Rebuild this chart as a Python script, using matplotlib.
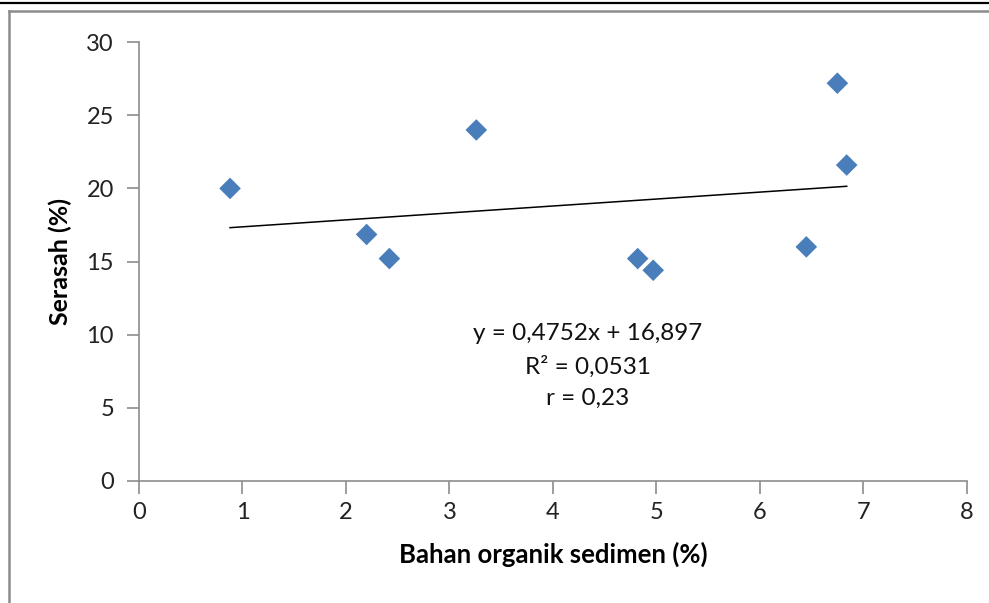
import matplotlib.pyplot as plt
from matplotlib.lines import Line2D

plt.rcParams['font.family'] = ['Lato', 'DejaVu Sans']

# Bahan organik sedimen (%) vs Serasah (%)
bahan_organik = [0.88, 2.20, 2.42, 3.26, 4.82, 4.97, 6.45, 6.75, 6.84]
serasah = [20.0, 16.85, 15.2, 24.0, 15.2, 14.4, 16.0, 27.2, 21.6]

# linear trendline as reported on the chart
slope = 0.4752
intercept = 16.897
trend_label = "y = 0,4752x + 16,897\nR² = 0,0531\nr = 0,23"

W, H = 989, 603
fig = plt.figure(figsize=(W / 100, H / 100), dpi=100)
ax = fig.add_axes([139 / W, 1 - 480.7 / H, (966.7 - 139) / W, (480.7 - 42.3) / H])

ax.scatter(bahan_organik, serasah, marker='D', s=11 ** 2, color='#4A7EBB',
           edgecolors='none', zorder=3)

x0, x1 = min(bahan_organik), max(bahan_organik)
ax.plot([x0, x1], [slope * x0 + intercept, slope * x1 + intercept],
        color='black', lw=1.1, zorder=2)

ax.text(4.34, 7.85, trend_label, ha='center', va='center', fontsize=17.5,
        linespacing=1.6, color='#111111')

ax.set_xlim(0, 8)
ax.set_ylim(0, 30)
ax.set_xticks(range(0, 9))
ax.set_yticks(range(0, 31, 5))

for side in ['top', 'right']:
    ax.spines[side].set_visible(False)
for side in ['left', 'bottom']:
    ax.spines[side].set_color('#8c8c8c')
    ax.spines[side].set_linewidth(1.2)
ax.tick_params(axis='both', direction='out', length=9, width=1.2, color='#8c8c8c',
               labelsize=17, labelcolor='#222222', pad=6)
ax.tick_params(axis='y', pad=9)

ax.set_xlabel("Bahan organik sedimen (%)", fontsize=18.5, fontweight='bold', labelpad=14)
ax.set_ylabel("Serasah (%)", fontsize=18, fontweight='bold', labelpad=10)

# outer frame lines
fig.add_artist(Line2D([0, 1], [1 - 2.5 / H, 1 - 2.5 / H], transform=fig.transFigure,
                      color='black', lw=1.6))
fig.add_artist(Line2D([9 / W, 1], [1 - 11 / H, 1 - 11 / H], transform=fig.transFigure,
                      color='#8c8c8c', lw=1.8))
fig.add_artist(Line2D([9 / W, 9 / W], [0, 1 - 11 / H], transform=fig.transFigure,
                      color='#8c8c8c', lw=1.8))

fig.savefig('out.png', dpi=100)
